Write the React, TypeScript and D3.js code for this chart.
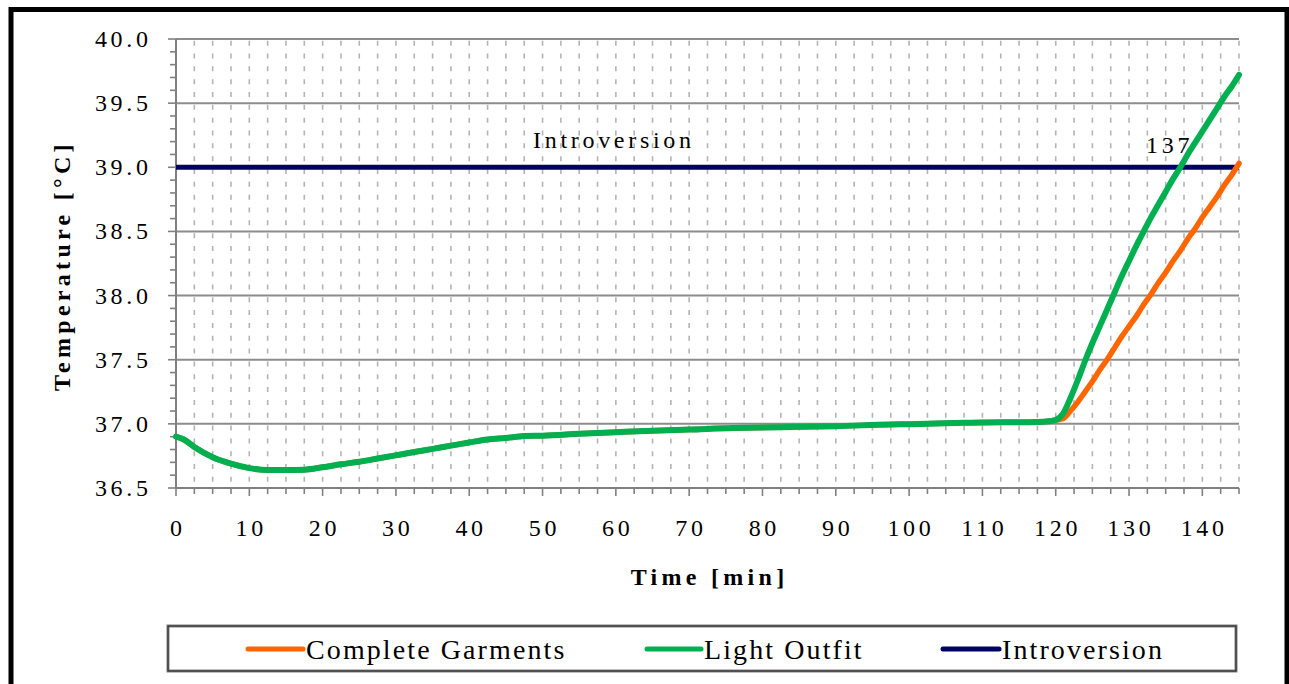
import React from "react";
import * as d3 from "d3";

// Shared resting phase (both outfits follow the same trace until ~120 min)
const restMinutes = [0, 1, 2.5, 5, 7.5, 10, 12.5, 15, 17.5, 20, 22.5, 25, 27.5, 30, 32.5, 35, 37.5, 40, 42.5, 45, 47.5, 50, 55, 60, 65, 70, 76, 80, 85, 90, 97.5, 100, 107.5, 110, 117.5, 119, 120];
const restTemp = [36.9, 36.88, 36.82, 36.74, 36.69, 36.655, 36.64, 36.64, 36.643, 36.662, 36.685, 36.705, 36.73, 36.755, 36.78, 36.805, 36.83, 36.855, 36.878, 36.89, 36.905, 36.908, 36.922, 36.935, 36.947, 36.956, 36.968, 36.972, 36.977, 36.982, 36.995, 36.997, 37.008, 37.01, 37.015, 37.02, 37.03];

// Heating phase
const riseMinutes = [121, 122, 123, 124, 125, 126, 127, 128, 129, 130, 131, 132, 133, 134, 135, 136, 137, 138, 139, 140, 141, 142, 143, 144, 145];
const completeGarmentsRise = [37.04, 37.1, 37.17, 37.25, 37.33, 37.42, 37.5, 37.59, 37.68, 37.76, 37.84, 37.93, 38.01, 38.1, 38.18, 38.27, 38.35, 38.44, 38.52, 38.61, 38.69, 38.77, 38.86, 38.94, 39.03];
const lightOutfitRise = [37.08, 37.2, 37.34, 37.49, 37.63, 37.76, 37.89, 38.02, 38.15, 38.27, 38.39, 38.5, 38.61, 38.71, 38.81, 38.91, 39.0, 39.1, 39.19, 39.28, 39.37, 39.46, 39.55, 39.63, 39.72];

const introversionTemp = 39.0;
const introversionTime = 137;

const xTicks = [0, 10, 20, 30, 40, 50, 60, 70, 80, 90, 100, 110, 120, 130, 140];
const yTicks = [36.5, 37.0, 37.5, 38.0, 38.5, 39.0, 39.5, 40.0];

const seriesNames = ["Complete Garments", "Light Outfit", "Introversion"];
const seriesColors = ["#FF6600", "#00B050", "#000066"];

const W = 1289;
const H = 684;
const M = { left: 176, right: 1239, top: 39, bottom: 488 };
const FONT = "'Liberation Serif', 'Times New Roman', serif";
const LS = 3.7;
const tickStyle = { fontFamily: FONT, letterSpacing: LS + "px" };
const titleStyle = { fontFamily: FONT, letterSpacing: "4.3px", fontWeight: 700 };

export default function App() {
  const x = d3.scaleLinear().domain([0, 145]).range([M.left, M.right]);
  const y = d3.scaleLinear().domain([36.5, 40]).range([M.bottom, M.top]);

  const line = d3
    .line<[number, number]>()
    .x((d) => x(d[0]))
    .y((d) => y(d[1]))
    .curve(d3.curveMonotoneX);

  const rest: [number, number][] = restMinutes.map((t, i) => [t, restTemp[i]]);
  const complete = rest.concat(riseMinutes.map((t, i) => [t, completeGarmentsRise[i]] as [number, number]));
  const light = rest.concat(riseMinutes.map((t, i) => [t, lightOutfitRise[i]] as [number, number]));

  const minorX = d3.range(2.5, 145.01, 2.5);
  const allX = d3.range(0, 145.01, 2.5);
  const minorY = d3.range(36.5, 40.001, 0.1);
  const step = y(36.5) - y(36.6);

  const legendItems = [
    { x1: 248, x2: 303, tx: 306 },
    { x1: 647, x2: 701, tx: 704 },
    { x1: 943, x2: 999, tx: 1002 },
  ];

  return (
    <svg width={W} height={H} style={{ position: "absolute", left: 0, top: 0, background: "#fff" }}>
      <rect x={0} y={0} width={W} height={H} fill="#fff" />
      {/* outer frame */}
      <rect x={11} y={9.5} width={1276} height={700} fill="none" stroke="#000" strokeWidth={5} />

      {/* vertical dashed grid */}
      {minorX.map((t) => (
        <line
          key={"vg" + t}
          x1={x(t)}
          x2={x(t)}
          y1={M.top}
          y2={M.bottom}
          stroke="#b4b4b4"
          strokeWidth={1.6}
          strokeDasharray={`0 1.7 5 ${step - 6.7}`}
        />
      ))}

      {/* horizontal grid */}
      {yTicks.slice(1).map((v) => (
        <line key={"hg" + v} x1={M.left} x2={M.right} y1={y(v)} y2={y(v)} stroke="#8c8c8c" strokeWidth={2} />
      ))}

      {/* y axis */}
      <line x1={M.left} x2={M.left} y1={M.top} y2={M.bottom} stroke="#808080" strokeWidth={2} />
      {minorY.map((v, i) => (
        <line
          key={"yt" + i}
          x1={M.left - (i % 5 === 0 ? 8 : 6)}
          x2={M.left}
          y1={y(v)}
          y2={y(v)}
          stroke="#808080"
          strokeWidth={1.6}
        />
      ))}
      {yTicks.map((v) => (
        <text key={"yl" + v} x={148 + LS} y={y(v) + 8} textAnchor="end" fontSize={24} style={tickStyle} fill="#000">
          {v.toFixed(1)}
        </text>
      ))}

      {/* x axis */}
      <line x1={M.left} x2={M.right} y1={M.bottom} y2={M.bottom} stroke="#808080" strokeWidth={2} />
      {allX.map((t) => (
        <line
          key={"xt" + t}
          x1={x(t)}
          x2={x(t)}
          y1={M.bottom}
          y2={M.bottom + (t % 10 === 0 ? 8 : 6)}
          stroke="#808080"
          strokeWidth={1.6}
        />
      ))}
      {xTicks.map((t) => (
        <text key={"xl" + t} x={x(t) + LS / 2} y={536} textAnchor="middle" fontSize={24} style={tickStyle} fill="#000">
          {t}
        </text>
      ))}

      {/* axis titles */}
      <text
        transform={`translate(70, ${(M.top + M.bottom) / 2 + 2.1}) rotate(-90)`}
        textAnchor="middle"
        fontSize={24}
        style={titleStyle}
      >
        Temperature [°C]
      </text>
      <text x={(M.left + M.right) / 2 + 2.1} y={585} textAnchor="middle" fontSize={24} style={titleStyle}>
        Time [min]
      </text>

      {/* introversion threshold */}
      <line
        x1={x(0)}
        x2={x(145)}
        y1={y(introversionTemp)}
        y2={y(introversionTemp)}
        stroke={seriesColors[2]}
        strokeWidth={5}
      />
      <text x={612 + LS / 2} y={148} textAnchor="middle" fontSize={24} style={tickStyle}>
        Introversion
      </text>
      <text x={1146} y={153} fontSize={24} style={tickStyle}>
        {introversionTime}
      </text>

      {/* series */}
      <path d={line(complete) || ""} fill="none" stroke={seriesColors[0]} strokeWidth={5.5} strokeLinecap="round" strokeLinejoin="round" />
      <path d={line(light) || ""} fill="none" stroke={seriesColors[1]} strokeWidth={6} strokeLinecap="round" strokeLinejoin="round" />

      {/* legend */}
      <rect x={168} y={626} width={1068} height={45} fill="#fff" stroke="#808080" strokeWidth={3} />
      <rect x={168} y={626} width={1068} height={45} fill="none" stroke="#222" strokeWidth={1} />
      {legendItems.map((it, i) => (
        <g key={"lg" + i}>
          <line x1={it.x1} x2={it.x2} y1={649} y2={649} stroke={seriesColors[i]} strokeWidth={5} strokeLinecap="round" />
          <text x={it.tx} y={659} fontSize={28} style={{ fontFamily: FONT, letterSpacing: "2.1px" }}>
            {seriesNames[i]}
          </text>
        </g>
      ))}
    </svg>
  );
}
